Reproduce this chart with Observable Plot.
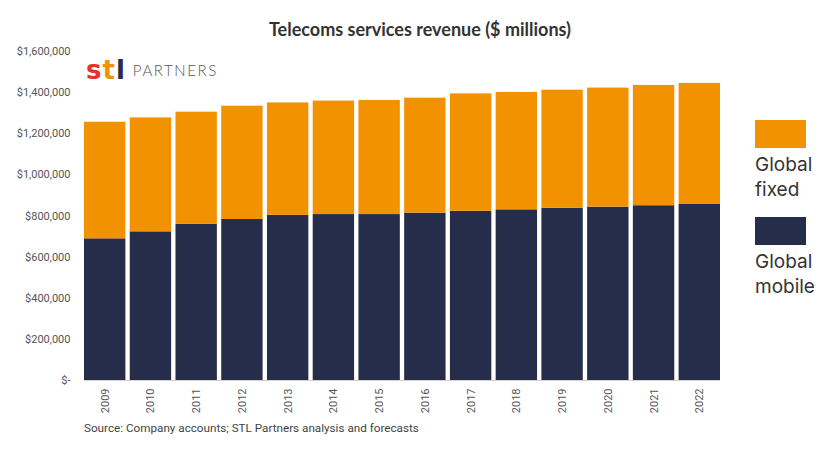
<!DOCTYPE html>
<html>
<head>
<meta charset="utf-8">
<script src="https://cdn.jsdelivr.net/npm/d3@7"></script>
<script src="https://cdn.jsdelivr.net/npm/@observablehq/plot@0.6"></script>
<style>
  html, body { margin: 0; padding: 0; background: #fff; }
  #wrap { position: relative; width: 840px; height: 472px; overflow: hidden; font-family: Roboto, sans-serif; }
  #title { position: absolute; left: 0; width: 840px; top: 18px; text-align: center; font-family: Lato, sans-serif; font-weight: 700; font-size: 18px; color: #333; }
  #logo { position: absolute; left: 86px; top: 56px; height: 28px; display: flex; align-items: center; }
  #logo .stl { font-family: "DejaVu Sans", sans-serif; font-weight: 700; font-size: 26px; letter-spacing: 1px; }
  #logo .partners { font-family: Lato, sans-serif; font-weight: 300; font-size: 15px; letter-spacing: 1.6px; color: #555; margin-left: 7px; }
  .leg { position: absolute; left: 755px; }
  .sw { width: 51px; height: 28px; }
  .lt { font-family: Inter, sans-serif; font-size: 19px; line-height: 25px; color: #333; margin-top: 4px; }
  #caption { position: absolute; left: 84px; top: 421px; font-family: Roboto, sans-serif; font-size: 11.7px; color: #444; }
  #chart { position: absolute; left: 0; top: 0; }
</style>
</head>
<body>
<div id="wrap">
  <div id="chart"></div>
  <div id="title">Telecoms services revenue ($ millions)</div>
  <div id="logo"><span class="stl"><span style="color:#E4342B">s</span><span style="color:#F39200">t</span><span style="color:#262D4A">l</span></span><span class="partners">PARTNERS</span></div>
  <div id="leg"></div>
  <div id="caption">Source: Company accounts; STL Partners analysis and forecasts</div>
</div>
<script>
const years = [2009, 2010, 2011, 2012, 2013, 2014, 2015, 2016, 2017, 2018, 2019, 2020, 2021, 2022];
const globalMobile = [689000, 723000, 759000, 783000, 803000, 807000, 807000, 814000, 823000, 830000, 838000, 843000, 850000, 856000];
const globalFixed = [567000, 554000, 546000, 551000, 547000, 552000, 555000, 559000, 571000, 571000, 574000, 579000, 585000, 589000];
const seriesNames = ["Global mobile", "Global fixed"];
const seriesColors = ["#262D4A", "#F39200"];
const yTicks = [0, 200000, 400000, 600000, 800000, 1000000, 1200000, 1400000, 1600000];

const rows = [];
years.forEach((y, i) => {
  rows.push({year: String(y), series: seriesNames[0], value: globalMobile[i]});
  rows.push({year: String(y), series: seriesNames[1], value: globalFixed[i]});
});

const fmt = d3.format(",");
const chart = Plot.plot({
  width: 840,
  height: 472,
  marginLeft: 84,
  marginRight: 120,
  marginTop: 51,
  marginBottom: 92,
  style: {fontFamily: "Roboto, sans-serif", fontSize: "11px", color: "#555", background: "transparent"},
  x: {domain: years.map(String), paddingInner: 0.095, paddingOuter: 0, round: false, label: null},
  y: {domain: [0, 1600000], label: null},
  color: {domain: seriesNames, range: seriesColors},
  marks: [
    Plot.gridY(yTicks, {stroke: "#dcdcdc", strokeOpacity: 1, x1: 80, x2: 722}),
    Plot.barY(rows, {x: "year", y: "value", fill: "series", order: seriesNames}),
    Plot.ruleY([0], {stroke: "#d0d0d0"}),
    Plot.axisY(yTicks, {tickSize: 0, tickPadding: 14, tickFormat: d => d === 0 ? "$-" : "$" + fmt(d), fill: "#555", fontSize: 11, label: null}),
    Plot.axisX({tickSize: 0, tickPadding: 8, tickRotate: -90, fill: "#555", fontSize: 11, label: null})
  ]
});
document.getElementById("chart").appendChild(chart);

const leg = document.getElementById("leg");
const legTops = [120, 217];
[1, 0].forEach((k, j) => {
  const d = document.createElement("div");
  d.className = "leg";
  d.style.top = legTops[j] + "px";
  const parts = seriesNames[k].split(" ");
  d.innerHTML = `<div class="sw" style="background:${seriesColors[k]}"></div><div class="lt">${parts[0]}<br>${parts[1]}</div>`;
  leg.appendChild(d);
});
</script>
</body>
</html>
